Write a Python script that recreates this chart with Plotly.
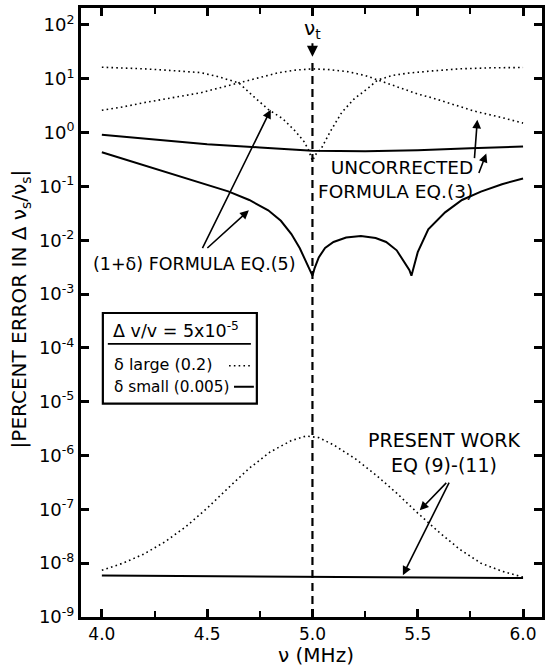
import plotly.graph_objects as go

# ---------------- data ----------------
# Uncorrected formula, delta large (0.2) -- two dotted curves
nu_unc_large_a = [4.0, 4.1, 4.2, 4.3, 4.4, 4.47, 4.55, 4.65, 4.72, 4.79, 4.86, 4.92, 4.96, 4.98, 5.0,
                  5.02, 5.04, 5.085, 5.14, 5.2, 5.26, 5.31, 5.38, 5.45, 5.57, 5.7, 5.85, 6.0]
err_unc_large_a = [16.4, 16.0, 15.3, 14.5, 13.6, 13.0, 11.0, 8.4, 4.7, 2.7, 1.8, 1.05, 0.68, 0.49, 0.3,
                   0.42, 0.49, 1.05, 2.4, 4.3, 6.5, 9.5, 11.5, 12.7, 14.0, 15.3, 16.0, 16.2]

nu_unc_large_b = [4.0, 4.1, 4.2, 4.3, 4.4, 4.47, 4.56, 4.65, 4.75, 4.84, 4.92, 5.0, 5.08, 5.17, 5.25,
                  5.31, 5.4, 5.5, 5.57, 5.65, 5.77, 5.9, 6.0]
err_unc_large_b = [2.6, 3.0, 3.6, 4.2, 5.0, 5.5, 6.8, 8.4, 10.8, 13.0, 14.5, 15.3, 14.8, 13.5, 11.5,
                   9.5, 7.0, 5.2, 4.4, 3.5, 2.5, 1.9, 1.5]

# Uncorrected formula, delta small (0.005) -- solid
nu_unc_small = [4.0, 4.25, 4.5, 4.75, 5.0, 5.25, 5.5, 5.75, 6.0]
err_unc_small = [0.91, 0.75, 0.61, 0.53, 0.46, 0.45, 0.47, 0.51, 0.55]

# (1+delta) formula, delta small -- solid
nu_one_delta = [4.0, 4.1, 4.2, 4.3, 4.4, 4.5, 4.6, 4.7, 4.79, 4.85, 4.9, 4.94, 4.97, 4.99, 5.0,
                5.01, 5.03, 5.06, 5.1, 5.16, 5.23, 5.3, 5.35, 5.4, 5.44, 5.46, 5.47, 5.48, 5.5,
                5.55, 5.63, 5.71, 5.8, 5.9, 6.0]
err_one_delta = [0.43, 0.324, 0.245, 0.186, 0.141, 0.107, 0.081, 0.056, 0.036, 0.023, 0.013, 0.0071,
                 0.004, 0.0026, 0.0022, 0.003, 0.0048, 0.0072, 0.0093, 0.0112, 0.012, 0.011, 0.0093,
                 0.0065, 0.0038, 0.0028, 0.0022, 0.0032, 0.006, 0.016, 0.033, 0.056, 0.08, 0.11, 0.14]

# Present work, delta large -- dotted
nu_present_large = [4.0, 4.1, 4.2, 4.3, 4.4, 4.5, 4.6, 4.7, 4.8, 4.9, 4.97, 5.03, 5.1, 5.2, 5.3,
                    5.4, 5.5, 5.6, 5.7, 5.8, 5.9, 6.0]
err_present_large = [7.4e-9, 1.0e-8, 1.48e-8, 2.5e-8, 4.8e-8, 1.05e-7, 2.5e-7, 5.8e-7, 1.17e-6,
                     1.9e-6, 2.3e-6, 2.15e-6, 1.58e-6, 8.9e-7, 4.4e-7, 2.0e-7, 8.5e-8, 3.8e-8,
                     1.8e-8, 1.0e-8, 7.1e-9, 5.5e-9]

# Present work, delta small -- solid
nu_present_small = [4.0, 5.0, 6.0]
err_present_small = [5.9e-9, 5.6e-9, 5.3e-9]

# Marker frequency nu_t
nu_t = 5.0
nu_t_line_y = [1e-9, 10 ** 1.3]

# Axis ticks
x_tick_vals = [4.0, 4.5, 5.0, 5.5, 6.0]
x_tick_text = ["4.0", "4.5", "5.0", "5.5", "6.0"]
y_exponents = [2, 1, 0, -1, -2, -3, -4, -5, -6, -7, -8, -9]
y_tick_vals = [10.0 ** e for e in y_exponents]
y_tick_text = ["10<sup>%d</sup>" % e for e in y_exponents]

# ---------------- figure ----------------
FONT = "DejaVu Sans"
DOT = "1.6px,3.2px"

fig = go.Figure()

def add_line(x, y, dotted):
    fig.add_trace(go.Scatter(
        x=x, y=y, mode="lines", showlegend=False, hoverinfo="skip",
        line=dict(color="black", width=1.6 if dotted else 2.0,
                  dash=DOT if dotted else "solid")))

add_line(nu_unc_large_a, err_unc_large_a, True)
add_line(nu_unc_large_b, err_unc_large_b, True)
add_line(nu_unc_small, err_unc_small, False)
add_line(nu_one_delta, err_one_delta, False)
add_line(nu_present_large, err_present_large, True)
add_line(nu_present_small, err_present_small, False)

fig.add_trace(go.Scatter(
    x=[nu_t, nu_t], y=nu_t_line_y, mode="lines", showlegend=False, hoverinfo="skip",
    line=dict(color="black", width=2.2, dash="8px,5px")))

axis_common = dict(
    showline=True, linecolor="black", linewidth=3, mirror="ticks",
    ticks="inside", ticklen=8, tickwidth=2.5, tickcolor="black",
    showgrid=False, zeroline=False,
)

fig.update_xaxes(
    range=[3.901, 6.090], tickvals=x_tick_vals, ticktext=x_tick_text,
    tickfont=dict(family=FONT, size=17, color="black"),
    minor=dict(dtick=0.25, tick0=4.0, ticks="inside", ticklen=6, tickwidth=2, tickcolor="black",
               showgrid=False),
    **axis_common)
fig.update_yaxes(
    type="log", range=[-9.0, 2.315], tickvals=y_tick_vals, ticktext=y_tick_text,
    tickfont=dict(family=FONT, size=18, color="black"),
    **axis_common)

# ---------------- annotations ----------------
def px_to_data(px, py):
    return 4.0 + (px - 102) / 212.0, 2.0 - (py - 23) / 54.0

ann = []

def text_at(px, py, text, size=18, xanchor="center", align="center"):
    x, y = px_to_data(px, py)
    ann.append(dict(x=x, y=y, xref="x", yref="y", text=text, showarrow=False,
                    xanchor=xanchor, yanchor="middle", align=align,
                    font=dict(family=FONT, size=size, color="black")))

def arrow(head, tail):
    x, y = px_to_data(*head)
    ann.append(dict(x=x, y=y, xref="x", yref="y", text="", showarrow=True,
                    ax=tail[0] - head[0], ay=tail[1] - head[1],
                    arrowhead=2, arrowsize=1.1, arrowwidth=1.6, arrowcolor="black"))

text_at(195, 263, "(1+δ) FORMULA EQ.(5)", size=17.5)
arrow((272, 108), (203, 248))
arrow((250, 209), (207, 248))

text_at(478, 178, "UNCORRECTED<br>FORMULA EQ.(3)", size=18.5, xanchor="right", align="right")
arrow((480, 118), (477, 158))
arrow((489, 152), (481, 173))

text_at(447, 452, "PRESENT WORK<br>EQ (9)-(11)", size=19)
arrow((422, 510), (450, 481))
arrow((405, 575), (452, 481))

# nu_t marker
xt, yt = px_to_data(316, 55)
ann.append(dict(x=nu_t, y=yt, xref="x", yref="y", text="ν<sub>t</sub>", showarrow=True,
                ax=0, ay=-28, arrowhead=2, arrowsize=1.1, arrowwidth=2, arrowcolor="black",
                font=dict(family=FONT, size=20, color="black")))

# axis titles
def paper(px, py):
    return (px - 81) / 464.0, (617 - py) / 611.0

px_, py_ = paper(20, 308)
ann.append(dict(x=px_, y=py_, xref="paper", yref="paper", showarrow=False, textangle=-90,
                text="|PERCENT ERROR IN Δ ν<sub>s</sub>/ν<sub>s</sub>|",
                font=dict(family=FONT, size=20, color="black"), xanchor="center", yanchor="middle"))
px_, py_ = paper(318, 655)
ann.append(dict(x=px_, y=py_, xref="paper", yref="paper", showarrow=False,
                text="ν (MHz)", font=dict(family=FONT, size=20, color="black"),
                xanchor="center", yanchor="middle"))

# legend box (drawn manually: text left, sample right)
shapes = []
bx0, by0 = paper(103, 403)
bx1, by1 = paper(258, 312)
shapes.append(dict(type="rect", xref="paper", yref="paper", x0=bx0, y0=by0, x1=bx1, y1=by1,
                   line=dict(color="black", width=2.2), fillcolor="white", layer="above"))
ux0, uy = paper(108, 343)
ux1, _ = paper(252, 343)
shapes.append(dict(type="line", xref="paper", yref="paper", x0=ux0, y0=uy, x1=ux1, y1=uy,
                   line=dict(color="black", width=1.8)))
lx0, ly1 = paper(230, 365)
lx1, _ = paper(253, 365)
shapes.append(dict(type="line", xref="paper", yref="paper", x0=lx0, y0=ly1, x1=lx1, y1=ly1,
                   line=dict(color="black", width=1.6, dash=DOT)))
sx0, ly2 = paper(235, 386)
sx1, _ = paper(255, 386)
shapes.append(dict(type="line", xref="paper", yref="paper", x0=sx0, y0=ly2, x1=sx1, y1=ly2,
                   line=dict(color="black", width=2.0)))

for (tx, ty, txt, fs) in [(111, 329, "Δ v/v = 5x10<sup>-5</sup>", 17.5),
                          (112, 364, "δ large (0.2)", 16),
                          (112, 386, "δ small (0.005)", 15.3)]:
    ppx, ppy = paper(tx, ty)
    ann.append(dict(x=ppx, y=ppy, xref="paper", yref="paper", showarrow=False, text=txt,
                    xanchor="left", yanchor="middle",
                    font=dict(family=FONT, size=fs, color="black")))

fig.update_layout(
    width=550, height=671,
    margin=dict(l=81, r=5, t=6, b=54),
    paper_bgcolor="white", plot_bgcolor="white",
    showlegend=False,
    annotations=ann, shapes=shapes,
    font=dict(family=FONT, color="black"),
)

fig.write_html(
    "out.html",
    config={"displayModeBar": False},
    post_script="document.body.style.margin='0px';document.body.style.overflow='hidden';",
)
